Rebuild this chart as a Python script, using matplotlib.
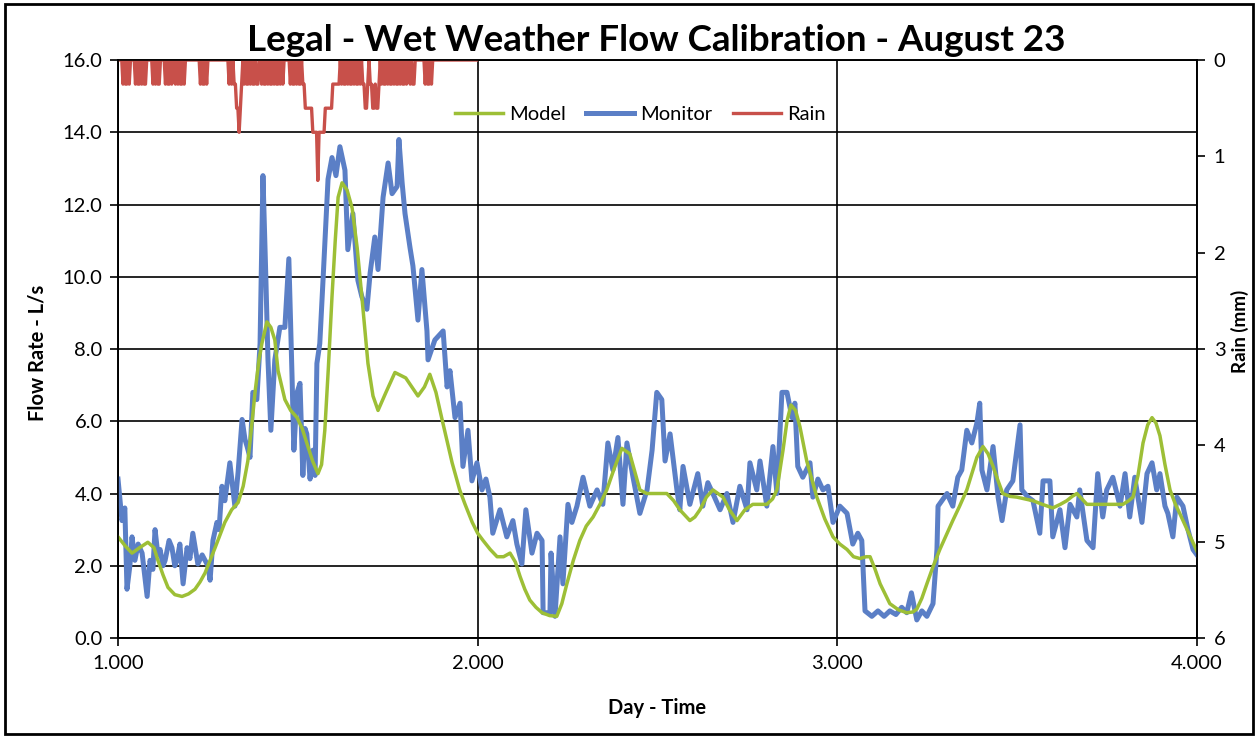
import numpy as np
import matplotlib.pyplot as plt
from matplotlib.patches import Rectangle
from matplotlib.ticker import FuncFormatter

plt.rcParams['font.family'] = ['Lato', 'DejaVu Sans']

# simulated flow (day, L/s)
model_day = [1.000, 1.020, 1.039, 1.060, 1.083, 1.100, 1.111, 1.125, 1.139, 1.158,
             1.178, 1.196, 1.214, 1.228, 1.242, 1.256, 1.270, 1.297, 1.316, 1.334,
             1.348, 1.361, 1.372, 1.381, 1.392, 1.400, 1.414, 1.425, 1.436, 1.445,
             1.464, 1.480, 1.498, 1.512, 1.525, 1.541, 1.556, 1.566, 1.575, 1.585,
             1.595, 1.604, 1.612, 1.623, 1.637, 1.651, 1.665, 1.678, 1.695, 1.709,
             1.723, 1.745, 1.770, 1.800, 1.834, 1.852, 1.867, 1.884, 1.901, 1.929,
             1.950, 1.965, 1.985, 2.000, 2.015, 2.035, 2.054, 2.072, 2.090, 2.105,
             2.118, 2.131, 2.145, 2.162, 2.179, 2.200, 2.220, 2.234, 2.248, 2.266,
             2.284, 2.302, 2.321, 2.340, 2.359, 2.380, 2.401, 2.423, 2.437, 2.451,
             2.470, 2.487, 2.526, 2.545, 2.562, 2.590, 2.604, 2.618, 2.636, 2.654,
             2.682, 2.700, 2.721, 2.743, 2.765, 2.804, 2.820, 2.832, 2.849, 2.860,
             2.871, 2.884, 2.896, 2.915, 2.943, 2.965, 2.988, 3.007, 3.027, 3.045,
             3.063, 3.080, 3.091, 3.105, 3.119, 3.146, 3.170, 3.193, 3.210, 3.221,
             3.235, 3.249, 3.267, 3.285, 3.303, 3.321, 3.340, 3.360, 3.374, 3.388,
             3.405, 3.419, 3.433, 3.447, 3.460, 3.480, 3.499, 3.544, 3.570, 3.599,
             3.620, 3.638, 3.653, 3.666, 3.680, 3.694, 3.730, 3.794, 3.810, 3.822,
             3.836, 3.850, 3.863, 3.875, 3.886, 3.897, 3.911, 3.925, 3.940, 3.952,
             3.975, 4.000]
model_flow = [2.80, 2.55, 2.35, 2.50, 2.65, 2.50, 2.15, 1.75, 1.40, 1.20,
              1.15, 1.22, 1.35, 1.55, 1.80, 2.15, 2.50, 3.20, 3.55, 3.75,
              4.20, 4.90, 5.90, 6.80, 7.70, 8.15, 8.75, 8.60, 8.25, 7.40,
              6.60, 6.30, 6.10, 5.80, 5.40, 4.90, 4.55, 4.80, 5.75, 7.50,
              9.45, 11.00, 12.20, 12.60, 12.40, 11.90, 10.80, 9.45, 7.60, 6.70,
              6.30, 6.80, 7.35, 7.20, 6.70, 6.95, 7.30, 6.80, 6.05, 4.85,
              4.10, 3.70, 3.20, 2.90, 2.70, 2.45, 2.25, 2.25, 2.35, 2.10,
              1.70, 1.35, 1.05, 0.85, 0.70, 0.62, 0.60, 0.95, 1.50, 2.15,
              2.70, 3.10, 3.35, 3.70, 4.10, 4.70, 5.25, 5.10, 4.60, 4.10,
              4.00, 4.00, 4.00, 3.80, 3.55, 3.25, 3.35, 3.55, 3.90, 4.10,
              3.90, 3.55, 3.25, 3.55, 3.70, 3.70, 3.85, 4.10, 5.20, 6.00,
              6.45, 6.30, 5.85, 4.90, 3.90, 3.30, 2.80, 2.60, 2.45, 2.25,
              2.20, 2.25, 2.25, 1.90, 1.50, 0.95, 0.78, 0.70, 0.72, 0.80,
              1.10, 1.50, 2.00, 2.45, 2.85, 3.25, 3.65, 4.10, 4.55, 5.00,
              5.30, 5.10, 4.75, 4.35, 4.00, 3.92, 3.90, 3.80, 3.70, 3.60,
              3.70, 3.80, 3.92, 4.00, 3.85, 3.70, 3.70, 3.70, 3.80, 3.90,
              4.50, 5.40, 5.90, 6.10, 5.95, 5.60, 4.80, 4.10, 3.70, 3.45,
              2.95, 2.40]

# flow monitor record (day, L/s)
monitor_day = [1.000, 1.011, 1.019, 1.025, 1.033, 1.039, 1.047, 1.056, 1.067, 1.081,
               1.089, 1.097, 1.103, 1.111, 1.117, 1.125, 1.131, 1.142, 1.150, 1.158,
               1.164, 1.172, 1.181, 1.192, 1.200, 1.208, 1.222, 1.234, 1.242, 1.250,
               1.256, 1.264, 1.275, 1.281, 1.289, 1.297, 1.311, 1.325, 1.334, 1.345,
               1.353, 1.359, 1.367, 1.375, 1.386, 1.395, 1.403, 1.411, 1.417, 1.425,
               1.436, 1.450, 1.464, 1.475, 1.484, 1.489, 1.498, 1.506, 1.514, 1.520,
               1.525, 1.534, 1.542, 1.548, 1.553, 1.561, 1.570, 1.584, 1.595, 1.606,
               1.617, 1.631, 1.639, 1.653, 1.667, 1.678, 1.692, 1.701, 1.714, 1.723,
               1.737, 1.751, 1.762, 1.776, 1.781, 1.790, 1.798, 1.812, 1.820, 1.834,
               1.845, 1.859, 1.862, 1.881, 1.904, 1.915, 1.923, 1.937, 1.951, 1.959,
               1.973, 1.984, 1.998, 2.012, 2.023, 2.034, 2.042, 2.062, 2.081, 2.098,
               2.109, 2.123, 2.134, 2.151, 2.165, 2.179, 2.182, 2.201, 2.204, 2.215,
               2.229, 2.237, 2.251, 2.262, 2.276, 2.293, 2.312, 2.332, 2.348, 2.362,
               2.376, 2.390, 2.404, 2.415, 2.432, 2.451, 2.471, 2.485, 2.498, 2.512,
               2.521, 2.535, 2.554, 2.562, 2.571, 2.590, 2.612, 2.626, 2.640, 2.654,
               2.674, 2.693, 2.710, 2.729, 2.749, 2.757, 2.776, 2.785, 2.804, 2.821,
               2.832, 2.846, 2.860, 2.874, 2.882, 2.890, 2.904, 2.924, 2.932, 2.946,
               2.960, 2.974, 2.988, 3.007, 3.027, 3.043, 3.057, 3.068, 3.077, 3.096,
               3.113, 3.130, 3.146, 3.163, 3.179, 3.193, 3.206, 3.221, 3.235, 3.249,
               3.266, 3.277, 3.280, 3.305, 3.321, 3.335, 3.346, 3.360, 3.374, 3.388,
               3.396, 3.402, 3.416, 3.433, 3.447, 3.458, 3.471, 3.488, 3.508, 3.513,
               3.530, 3.544, 3.563, 3.572, 3.591, 3.599, 3.619, 3.633, 3.647, 3.666,
               3.674, 3.694, 3.711, 3.724, 3.738, 3.749, 3.766, 3.786, 3.800, 3.813,
               3.827, 3.847, 3.861, 3.875, 3.888, 3.897, 3.911, 3.919, 3.933, 3.944,
               3.961, 3.975, 3.989, 4.000]
monitor_flow = [4.40, 3.25, 3.60, 1.35, 2.00, 2.80, 2.15, 2.60, 2.35, 1.15,
                2.15, 1.90, 3.00, 2.30, 2.45, 2.00, 2.15, 2.70, 2.50, 2.00,
                2.15, 2.60, 1.50, 2.50, 2.20, 2.90, 2.05, 2.30, 2.15, 2.00,
                1.60, 2.70, 3.20, 3.00, 4.20, 3.80, 4.85, 3.65, 4.60, 6.05,
                5.50, 5.30, 5.00, 6.80, 6.60, 8.15, 12.80, 10.00, 7.70, 5.75,
                7.70, 8.60, 8.60, 10.50, 7.20, 5.20, 6.80, 7.05, 4.50, 5.80,
                5.65, 4.40, 5.20, 4.50, 7.60, 8.15, 9.90, 12.70, 13.30, 12.80,
                13.60, 12.95, 10.75, 11.75, 9.90, 9.45, 9.10, 10.10, 11.10, 10.20,
                12.20, 13.15, 12.30, 12.50, 13.80, 12.60, 11.75, 10.80, 10.30, 8.80,
                10.20, 8.50, 7.70, 8.25, 8.50, 6.95, 7.40, 6.10, 6.50, 4.75,
                5.75, 4.35, 4.85, 4.10, 4.40, 3.90, 2.90, 3.55, 2.80, 3.25,
                2.60, 2.05, 3.55, 2.35, 2.90, 2.70, 0.70, 0.70, 2.35, 0.60,
                2.80, 1.50, 3.70, 3.20, 3.65, 4.45, 3.65, 4.10, 3.70, 5.40,
                4.65, 5.55, 3.70, 5.40, 4.45, 3.45, 4.10, 5.20, 6.80, 6.60,
                4.90, 5.65, 4.10, 3.55, 4.75, 3.70, 4.55, 3.65, 4.30, 4.00,
                3.55, 4.00, 3.20, 4.20, 3.55, 4.85, 4.10, 4.90, 3.65, 5.30,
                4.00, 6.80, 6.80, 6.10, 6.50, 4.75, 4.45, 4.85, 3.90, 4.40,
                4.10, 4.20, 3.20, 3.65, 3.45, 2.60, 2.90, 2.70, 0.75, 0.60,
                0.75, 0.60, 0.75, 0.65, 0.85, 0.70, 1.25, 0.50, 0.75, 0.60,
                0.95, 2.45, 3.65, 4.00, 3.65, 4.45, 4.65, 5.75, 5.40, 5.95,
                6.50, 4.65, 4.10, 5.30, 3.90, 3.25, 4.10, 4.35, 5.90, 4.10,
                3.90, 3.80, 2.90, 4.35, 4.35, 2.80, 3.55, 2.50, 3.70, 3.35,
                4.10, 2.70, 2.50, 4.55, 3.35, 4.10, 4.45, 3.65, 4.55, 3.35,
                4.45, 3.20, 4.55, 4.85, 4.10, 4.55, 3.65, 3.45, 2.80, 3.90,
                3.65, 3.00, 2.45, 2.30]

# rain gauge, 5 minute totals from day 1.000, counted in 0.25 mm tips
rain_start = 1.0
rain_step_min = 5
rain_tips = [0, 0, 0, 0, 1, 0, 1, 1, 0, 1, 0, 0, 0, 0, 1, 0, 1, 1, 0, 1, 0, 1, 1, 0,
             0, 0, 0, 0, 1, 0, 1, 0, 1, 1, 0, 0, 0, 0, 1, 0, 1, 1, 0, 1, 0, 0, 1, 0,
             1, 0, 1, 1, 0, 1, 0, 0, 0, 0, 0, 0, 0, 0, 0, 0, 0, 0, 1, 0, 1, 1, 0, 1,
             0, 0, 0, 0, 0, 0, 0, 0, 0, 0, 0, 0, 0, 0, 0, 0, 0, 1, 0, 1, 0, 1, 1, 2,
             2, 3, 2, 1, 0, 1, 0, 1, 1, 0, 1, 0, 1, 1, 0, 1, 1, 0, 0, 1, 0, 1, 1, 0,
             1, 0, 1, 1, 0, 1, 0, 1, 1, 0, 1, 0, 1, 0, 0, 0, 0, 0, 1, 0, 1, 1, 0, 1,
             0, 1, 1, 0, 1, 1, 2, 2, 2, 2, 2, 2, 3, 3, 3, 3, 5, 3, 3, 3, 3, 3, 2, 2,
             2, 2, 2, 2, 1, 1, 1, 1, 1, 1, 0, 1, 0, 1, 1, 0, 1, 0, 1, 1, 0, 1, 0, 1,
             1, 0, 1, 0, 1, 1, 2, 2, 1, 0, 1, 1, 2, 2, 1, 2, 2, 1, 0, 1, 0, 1, 1, 0,
             1, 0, 1, 1, 0, 1, 0, 1, 1, 0, 1, 0, 1, 1, 0, 1, 0, 0, 1, 0, 1, 1, 0, 0,
             0, 0, 0, 0, 0, 0, 1, 0, 1, 1, 0, 1, 0, 0, 0, 0, 0, 0, 0, 0, 0, 0, 0, 0,
             0, 0, 0, 0, 0, 0, 0, 0, 0, 0, 0, 0, 0, 0, 0, 0, 0, 0, 0, 0, 0, 0, 0, 0]

rain_mm = [0.25 * q for q in rain_tips]
rain_day = rain_start + np.arange(len(rain_tips)) * rain_step_min / 1440.0

green = '#9dbf36'
blue = '#5b7fc6'
red = '#c8504a'

fig = plt.figure(figsize=(12.58, 7.41), dpi=100)
ax = fig.add_axes([0.0938, 0.139, 0.8577, 0.780])
ax2 = ax.twinx()

ln_mon, = ax.plot(monitor_day, monitor_flow, color=blue, lw=3.6, zorder=3,
                  solid_joinstyle='round', label='Monitor')
ln_mod, = ax.plot(model_day, model_flow, color=green, lw=2.5, zorder=4, label='Model')
ln_rain, = ax2.plot(rain_day, rain_mm, color=red, lw=2.4, label='Rain')

ax.set_xlim(1, 4)
ax.set_ylim(0, 16)
ax.set_xticks([1, 2, 3, 4])
ax.set_yticks(np.arange(0, 17, 2))
ax.xaxis.set_major_formatter(FuncFormatter(lambda v, p: f'{v:.3f}'))
ax.yaxis.set_major_formatter(FuncFormatter(lambda v, p: f'{v:.1f}'))
ax.grid(True, color='black', lw=1.2)
ax.set_axisbelow(True)

ax2.set_ylim(6, 0)
ax2.set_yticks(range(0, 7))

for a in (ax, ax2):
    a.tick_params(direction='out', length=6, width=1.2, labelsize=14.5, colors='black')
    for s in a.spines.values():
        s.set_linewidth(1.2)
        s.set_color('black')
ax.tick_params(axis='y', pad=5)
ax.tick_params(axis='x', pad=6)
ax2.tick_params(axis='y', pad=6)

ax.legend([ln_mod, ln_mon, ln_rain], ['Model', 'Monitor', 'Rain'],
          loc='center', bbox_to_anchor=(0.484, 0.906), ncol=3, frameon=False,
          fontsize=14.5, handlelength=2.4, handletextpad=0.3, columnspacing=1.0)

fig.text(0.522, 0.946, 'Legal - Wet Weather Flow Calibration - August 23',
         ha='center', va='center', fontsize=26.5, fontweight='bold')
fig.text(0.030, 0.524, 'Flow Rate - L/s', rotation=90, ha='center', va='center',
         fontsize=14.5, fontweight='bold')
fig.text(0.522, 0.044, 'Day - Time', ha='center', va='center',
         fontsize=14.5, fontweight='bold')
fig.text(0.986, 0.553, 'Rain (mm)', rotation=90, ha='center', va='center',
         fontsize=13.5, fontweight='bold')

fig.patches.append(Rectangle((0.004, 0.01), 0.992, 0.984, transform=fig.transFigure,
                             fill=False, edgecolor='black', lw=2.0))

fig.savefig('out.png', dpi=100)
